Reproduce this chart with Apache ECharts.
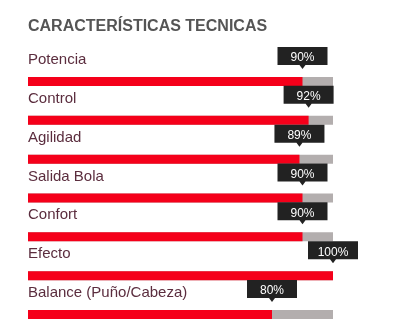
<!DOCTYPE html>
<html><head><meta charset="utf-8">
<script src="https://cdn.jsdelivr.net/npm/echarts@6/dist/echarts.min.js"></script>
<style>html,body{margin:0;padding:0;background:#fff}#c{width:405px;height:334px}</style>
</head><body><div id="c"></div>
<script>
const title = 'CARACTERÍSTICAS TECNICAS';
const categories = ['Potencia','Control','Agilidad','Salida Bola','Confort','Efecto','Balance (Puño/Cabeza)'];
const values = [90, 92, 89, 90, 90, 100, 80];
const maxValue = 100;

const chart = echarts.init(document.getElementById('c'), null, {renderer:'canvas'});
const FONT = '"Liberation Sans", Arial, Helvetica, sans-serif';
chart.setOption({
  animation: false,
  title: {text: title, left: 23, top: 14,
    textStyle: {fontFamily: FONT, fontSize: 16, fontWeight: 'bold', color: '#555555'}},
  grid: {left: 28, width: 305, top: 62, height: 273},
  xAxis: {type: 'value', min: 0, max: maxValue, show: false},
  yAxis: {type: 'category', data: categories, inverse: true, show: false},
  series: [
    {type: 'bar', data: values, barWidth: 9,
     itemStyle: {color: '#f5001a'},
     showBackground: true, backgroundStyle: {color: '#b3aeae'},
     label: {show: true, position: [0, -17], verticalAlign: 'middle', align: 'left',
       formatter: p => p.name, fontFamily: FONT, fontSize: 15, color: '#5b2d3e'}},
    {type: 'scatter', data: values.map((v, i) => [v, i]),
     encode: {x: 0, y: 1},
     symbol: 'path://M0,0 H50 V18 H28 L25,22 L22,18 H0 Z',
     symbolSize: [50, 22], symbolOffset: [0, -23.5],
     itemStyle: {color: '#222222', opacity: 1},
     labelLayout: {hideOverlap: false},
     label: {show: true, position: 'inside', offset: [0, -2],
       formatter: p => p.value[0] + '%', fontFamily: FONT, fontSize: 12, color: '#ffffff'},
     emphasis: {disabled: true},
     z: 5}
  ]
});
</script></body></html>
